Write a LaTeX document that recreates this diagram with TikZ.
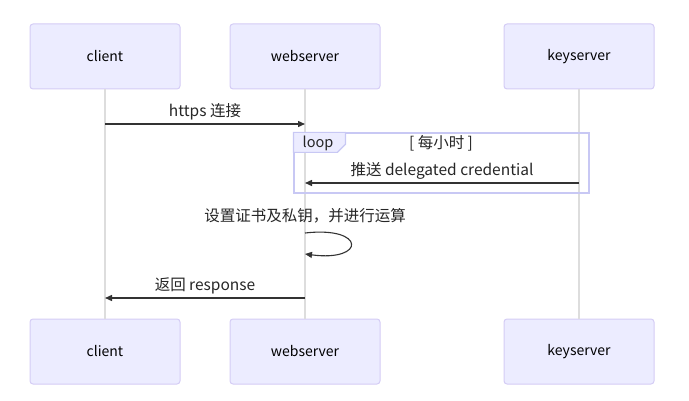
\documentclass[tikz,border=0pt]{standalone}
\usepackage{fontspec}
\setmainfont{Noto Sans CJK SC}
\usetikzlibrary{arrows.meta,positioning}
\definecolor{actfill}{HTML}{ECECFF}
\definecolor{actline}{HTML}{D4CCF5}
\definecolor{loopline}{HTML}{C8C8F4}
\definecolor{msgline}{HTML}{333333}
\definecolor{lifeline}{HTML}{DDDDDD}

\begin{document}
\begin{tikzpicture}[x=1pt,y=-1pt,
  actor/.style={draw=actline,fill=actfill,rounded corners=3pt,line width=1pt,minimum width=150pt,minimum height=65pt,font=\fontsize{14}{16}\selectfont,text=black},
  life/.style={draw=lifeline,line width=1.2pt},
  msg/.style={draw=msgline,line width=1.4pt,-{Triangle[length=7pt,width=6pt]}},
  lbl/.style={font=\fontsize{15.5}{18}\selectfont,text=black!85,inner sep=1pt}]
\useasboundingbox (0,0) rectangle (689,401);
% actors
\node[actor] (cl) at (105,56.5) {client};
\node[actor] (ws) at (305,56.5) {webserver};
\node[actor] (ks) at (579,56.5) {keyserver};
\node[actor] (clb) at (105,351.5) {client};
\node[actor] (wsb) at (305,351.5) {webserver};
\node[actor] (ksb) at (579,351.5) {keyserver};
\draw[life] (cl) -- (clb);
\draw[life] (ws) -- (wsb);
\draw[life] (ks) -- (ksb);
% messages
\coordinate (c1) at (105,124);
\coordinate (w1) at (305,124);
\draw[msg] (c1) -- node[lbl,above=2pt]{https 连接} (w1);
% loop frame
\node[draw=loopline,line width=1.2pt,minimum width=295pt,minimum height=60pt,inner sep=0pt] (loopbox) at (441.5,163) {};
\draw[draw=loopline,fill=actfill,line width=1.2pt] (loopbox.north west) -- ++(52,0) -- ++(0,12) -- ++(-8,8) -- ++(-44,0) -- cycle;
\node[lbl,font=\fontsize{14.5}{16}\selectfont] (looptag) at (318,143) {loop};
\node[lbl] (loopcond) at (441,143) {[ 每小时 ]};
\coordinate (k2) at (579,183);
\coordinate (w2) at (305,183);
\draw[msg] (k2) -- node[lbl,above=2pt]{推送 delegated credential} (w2);
% self call
\coordinate (w3a) at (305,233);
\coordinate (w3b) at (305,254);
\node[lbl] (selflbl) at (305,216) {设置证书及私钥，并进行运算};
\draw[msg,line width=1.1pt] (w3a) .. controls (366,226) and (366,262) .. (w3b);
% reply
\coordinate (w4) at (305,298);
\coordinate (c4) at (105,298);
\draw[msg] (w4) -- node[lbl,above=2pt]{返回 response} (c4);
\end{tikzpicture}
\end{document}
